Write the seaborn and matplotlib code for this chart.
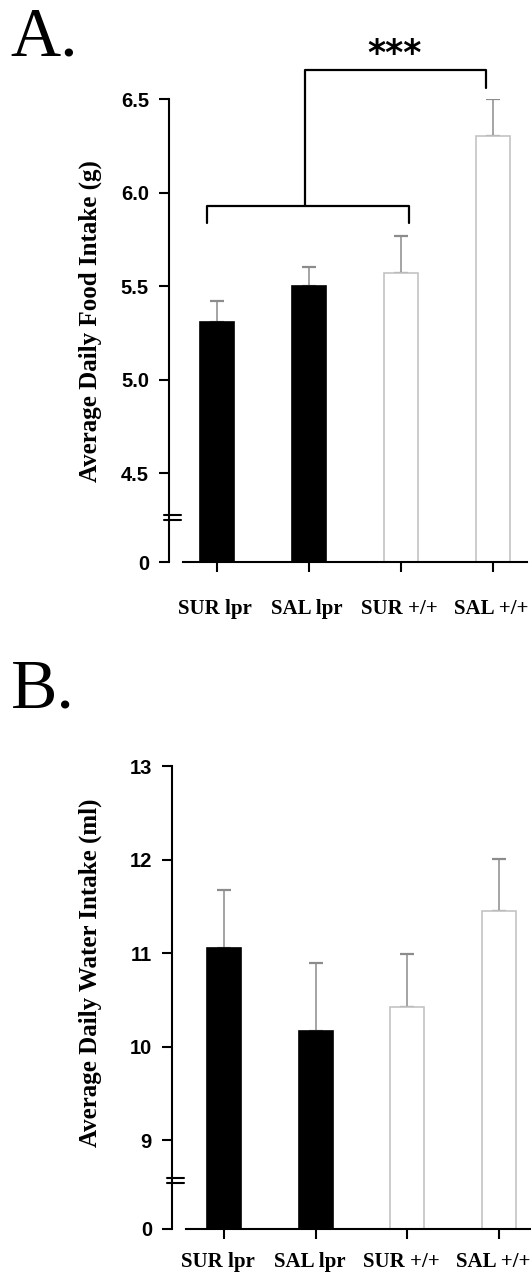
import numpy as np
import pandas as pd
import matplotlib
matplotlib.use("Agg")
import matplotlib.pyplot as plt
import matplotlib.transforms as mtransforms
import seaborn as sns

# ---------------- data ----------------
groups = ["SUR lpr", "SAL lpr", "SUR +/+", "SAL +/+"]
food_mean = [5.31, 5.50, 5.57, 6.30]
food_sem = [0.11, 0.105, 0.20, 0.20]
water_mean = [11.06, 10.17, 10.43, 11.45]
water_sem = [0.62, 0.73, 0.56, 0.56]
food_ticks = [0, 4.5, 5.0, 5.5, 6.0, 6.5]
food_ticklabels = ["0", "4.5", "5.0", "5.5", "6.0", "6.5"]
water_ticks = [0, 9, 10, 11, 12, 13]
water_ticklabels = ["0", "9", "10", "11", "12", "13"]
fill_colors = ["black", "black", "white", "white"]
edge_colors = ["black", "black", "#c4c4c4", "#c4c4c4"]

sns.set_theme(style="white")
plt.rcParams["font.family"] = ["Liberation Serif", "DejaVu Serif"]
plt.rcParams["text.color"] = "black"
plt.rcParams["xtick.color"] = "black"
plt.rcParams["ytick.color"] = "black"
plt.rcParams["axes.labelcolor"] = "black"

W, H = 531, 1276
fig = plt.figure(figsize=(W / 100, H / 100), dpi=100)


def make_scale(low_tick, gap_units):
    def fwd(y):
        y = np.asarray(y, dtype=float)
        return np.where(y >= low_tick, y - low_tick + gap_units, y * gap_units / low_tick)

    def inv(t):
        t = np.asarray(t, dtype=float)
        return np.where(t >= gap_units, t - gap_units + low_tick, t * low_tick / gap_units)

    return fwd, inv


def panel(rect_px, means, sems, ticks, ticklabels, low_tick, gap_units, ylabel,
          label_xy, xpad, brk_y, xshift):
    l, r, b, t, first_tick, spacing = rect_px
    ax = fig.add_axes([l / W, 1 - b / H, (r - l) / W, (b - t) / H])
    df = pd.DataFrame({"group": groups, "value": means})
    sns.barplot(data=df, x="group", y="value", hue="group", palette=fill_colors,
                width=0.37, legend=False, ax=ax, errorbar=None, linewidth=0)
    for patch, ec, fc in zip(ax.patches, edge_colors, fill_colors):
        patch.set_edgecolor(ec)
        patch.set_facecolor(fc)
        patch.set_linewidth(1.2)
        patch.set_zorder(2)
    ax.errorbar(range(len(groups)), means, yerr=[np.zeros(len(sems)), sems],
                fmt="none", ecolor="#8c8c8c", elinewidth=1.1, capsize=5,
                capthick=1.6, zorder=1)
    fwd, inv = make_scale(low_tick, gap_units)
    ax.set_yscale("function", functions=(fwd, inv))
    ax.set_ylim(0, ticks[-1])
    ax.set_yticks(ticks)
    ax.set_yticklabels(ticklabels)
    x_left = -(first_tick - l) / spacing
    ax.set_xlim(x_left, x_left + (r - l) / spacing)
    ax.set_xlabel("")
    sns.despine(ax=ax)
    ax.spines["left"].set_position(("outward", 10))
    for s in ("left", "bottom"):
        ax.spines[s].set_linewidth(1.5)
        ax.spines[s].set_color("black")
    ax.tick_params(axis="both", direction="out", length=7.5, width=1.5,
                   color="black", labelcolor="black", left=True, bottom=True)
    ax.tick_params(axis="y", pad=7)
    ax.tick_params(axis="x", pad=xpad)
    for lab in ax.get_yticklabels():
        lab.set_fontfamily("Liberation Sans")
        lab.set_fontweight("bold")
        lab.set_fontsize(14.5)
    shift = mtransforms.ScaledTranslation(xshift / 100, 0, fig.dpi_scale_trans)
    for lab in ax.get_xticklabels():
        lab.set_fontfamily("Liberation Serif")
        lab.set_fontweight("bold")
        lab.set_fontsize(15)
        lab.set_transform(lab.get_transform() + shift)
    ax.set_ylabel(ylabel, fontsize=18, fontweight="bold",
                  fontfamily="Liberation Serif", color="black")
    ax.yaxis.label.set_va("center")
    ax.yaxis.set_label_coords(*label_xy)
    # axis break marks
    axw = r - l
    axh = b - t
    y1 = (b - brk_y[0]) / axh
    y2 = (b - brk_y[1]) / axh
    xs = [-19 / axw, -2 / axw]
    ax.fill_between([-12 / axw, -8 / axw], [y2, y2], [y1, y1],
                    transform=ax.transAxes, color="white", clip_on=False, zorder=5)
    for yy in (y1, y2):
        ax.plot(xs, [yy, yy], transform=ax.transAxes, color="black", lw=1.5,
                clip_on=False, zorder=6)
    return ax


# Panel A
axA = panel((183, 527, 562, 99, 217, 92), food_mean, food_sem, food_ticks,
            food_ticklabels, 4.5, 0.473, "Average Daily Food Intake (g)",
            (-0.270, 0.52), 19, (515, 520), -2)
# significance brackets
lw = 1.6
axA.plot([-0.11, -0.11, 2.09, 2.09], [5.84, 5.93, 5.93, 5.84], color="black",
         lw=lw, clip_on=False)
axA.plot([0.96, 0.96, 2.92, 2.92], [5.93, 6.655, 6.655, 6.56], color="black",
         lw=lw, clip_on=False)
axA.text(1.93, 6.74, "***", ha="center", va="center", fontsize=25,
         fontweight="bold", fontfamily="DejaVu Sans")

# Panel B
axB = panel((186, 530, 1229, 766, 224, 91.7), water_mean, water_sem, water_ticks,
            water_ticklabels, 9, 0.947, "Average Daily Water Intake (ml)",
            (-0.279, 0.553), 9, (1178, 1183), -6)

fig.text(10 / W, 1 - 55 / H, "A.", fontsize=50, fontfamily="Liberation Serif",
         ha="left", va="baseline")
fig.text(11 / W, 1 - 708 / H, "B.", fontsize=50, fontfamily="Liberation Serif",
         ha="left", va="baseline")

fig.savefig("out.png", dpi=100, facecolor="white")
